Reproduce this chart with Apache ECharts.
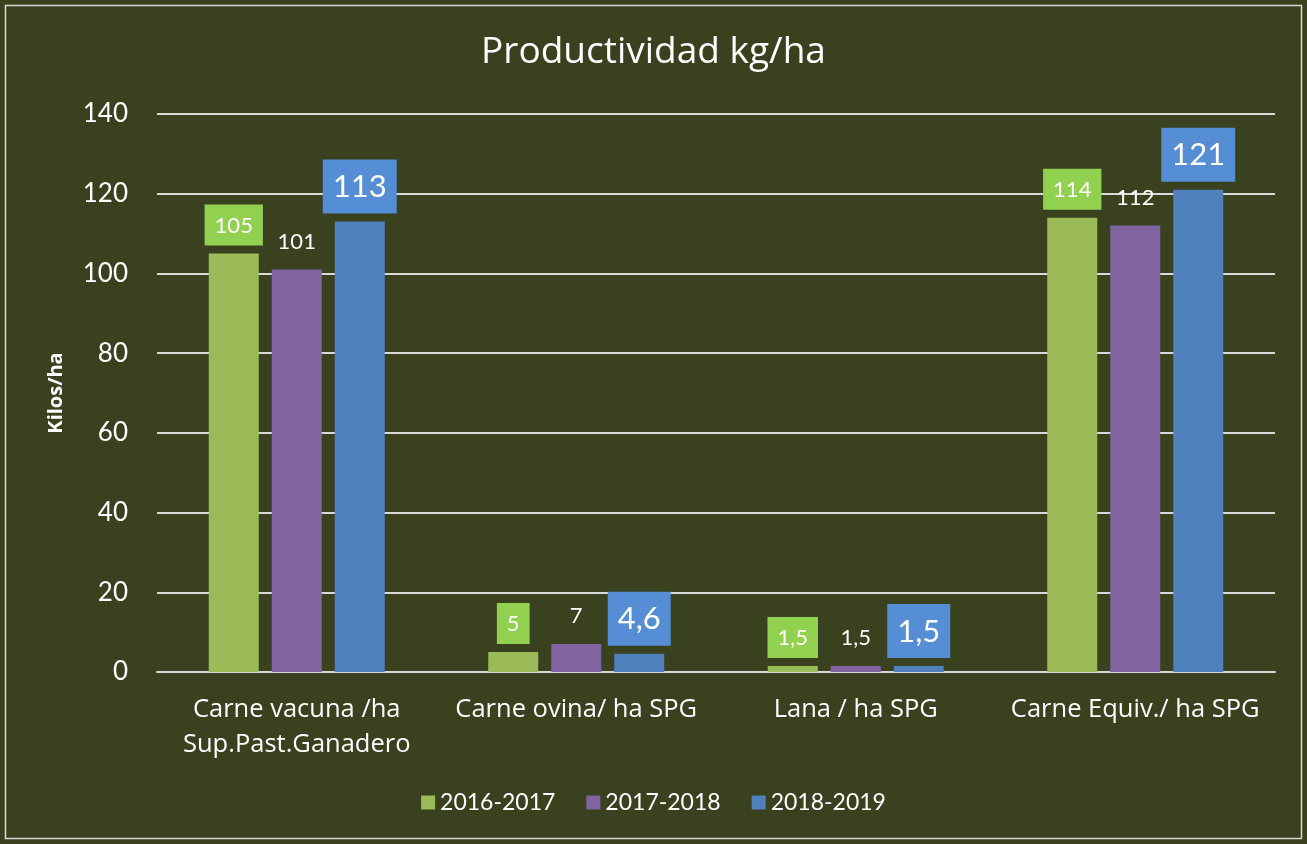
<!DOCTYPE html>
<html><head><meta charset="utf-8">
<script src="https://cdn.jsdelivr.net/npm/echarts@6/dist/echarts.min.js"></script>
<style>html,body{margin:0;padding:0;background:#39411e;}#c{width:1307px;height:844px;}</style>
</head><body><div id="c"></div>
<script>
const categories = ['Carne vacuna /ha\nSup.Past.Ganadero', 'Carne ovina/ ha SPG', 'Lana / ha SPG', 'Carne Equiv./ ha SPG'];
const seriesNames = ['2016-2017', '2017-2018', '2018-2019'];
const values2016 = [105, 5, 1.5, 114];
const values2017 = [101, 7, 1.5, 112];
const values2018 = [113, 4.6, 1.5, 121];
const yTicks = { min: 0, max: 140, interval: 20 };

const FONT = 'Lato';
const FONT2 = 'Open Sans';
const fmt = p => String(p.value).replace('.', ',');
const chart = echarts.init(document.getElementById('c'));
const barColors = ['#9bbb59', '#8064a2', '#4f81bd'];
const labelStyles = [
  { backgroundColor: '#92d050', fontSize: 22, padding: [10, 10, 9, 10] },
  { backgroundColor: 'transparent', fontSize: 22, padding: [10, 10, 9, 10] },
  { backgroundColor: '#558ed5', fontSize: 31, padding: [12, 10, 11, 10] }
];
const data = [values2016, values2017, values2018];
chart.setOption({
  backgroundColor: '#39411e',
  textStyle: { fontFamily: FONT },
  title: { text: 'Productividad kg/ha', left: 'center', top: 29, textStyle: { color: '#ffffff', fontSize: 37, fontWeight: 'normal', fontFamily: FONT2 } },
  graphic: [{ type: 'rect', shape: { x: 5.5, y: 5.5, width: 1296, height: 833 }, style: { fill: 'none', stroke: '#d9d9d9', lineWidth: 1.5 }, silent: true }],
  legend: {
    data: seriesNames, bottom: 25, left: 'center', icon: 'rect', itemWidth: 14, itemHeight: 14, itemGap: 31,
    textStyle: { color: '#ffffff', fontSize: 23, fontFamily: FONT }
  },
  grid: { left: 157, right: 32, top: 114, bottom: 172, containLabel: false },
  xAxis: {
    type: 'category', data: categories,
    axisLine: { lineStyle: { color: '#d9d9d9', width: 2 } },
    axisTick: { show: false },
    axisLabel: { color: '#ffffff', fontSize: 25.5, margin: 20, lineHeight: 35, fontFamily: FONT2, interval: 0 }
  },
  yAxis: {
    type: 'value', min: yTicks.min, max: yTicks.max, interval: yTicks.interval,
    name: 'Kilos/ha', nameLocation: 'middle', nameGap: 91, nameRotate: 90,
    nameTextStyle: { color: '#ffffff', fontSize: 20, fontWeight: 'bold', fontFamily: FONT2 },
    axisLine: { show: false }, axisTick: { show: false },
    axisLabel: { color: '#ffffff', fontSize: 26, margin: 29, fontFamily: FONT },
    splitLine: { lineStyle: { color: '#d9d9d9', width: 2 } }
  },
  series: seriesNames.map((n, i) => ({
    name: n, type: 'bar', data: data[i], barWidth: 50, barGap: '26%',
    itemStyle: { color: barColors[i] },
    label: Object.assign({ show: true, position: 'top', distance: 8, color: '#ffffff', formatter: fmt, fontFamily: FONT }, labelStyles[i])
  }))
});
</script></body></html>
